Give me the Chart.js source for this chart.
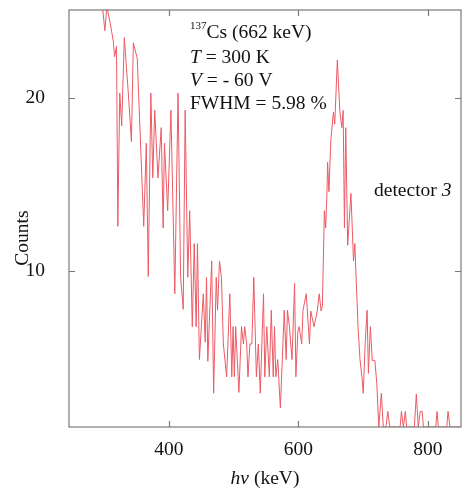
<!DOCTYPE html>
<html>
<head>
<meta charset="utf-8">
<script src="https://cdn.jsdelivr.net/npm/chart.js@4.4.1/dist/chart.umd.min.js"></script>
<style>
html,body{margin:0;padding:0;background:#fff;}
canvas{display:block;}
</style>
</head>
<body>
<canvas id="c" width="462" height="488"></canvas>
<script>
// Photon energy (keV) of each sampled point
const energy = [289,297,301,304,309,314,316,319,321,324,327,331,337,342,345,351,361,365,368,372,375,378,383,388,391,393,398,403,409,414,418,422,425,429,432,436,439,442,444,447,453,456,458,460,466,469,473,475,478,481,484,489,494,497,499,501,503,508,512,515,517,520,522,525,528,531,535,538,541,546,548,551,555,558,561,563,565,568,572,576,578,581,583,586,590,594,596,599,601,605,607,612,617,619,624,629,632,635,637,640,642,644,645,647,650,654,656,660,664,667,669,671,673,676,681,685,687,692,695,698,700,703,706,708,711,714,718,721,724,728,731,735,738,741,757,759,762,765,767,779,782,785,788,791,793,812,814,816,829,831,834,851];
// Counts
const counts = [27.5,25.4,23.9,25.3,24.4,23.3,22.4,23.0,12.6,20.3,18.4,23.5,20.4,17.5,23.2,22.3,12.6,17.4,9.7,20.3,15.4,19.3,15.4,18.3,12.5,17.4,13.5,19.3,8.7,20.3,9.65,7.8,19.3,9.65,13.5,6.8,11.6,6.8,11.6,4.9,8.7,5.9,9.65,4.8,10.6,2.95,9.65,7.75,10.6,9.65,5.8,3.9,8.7,3.9,6.8,3.9,6.8,3.0,6.8,5.8,6.8,5.8,3.9,5.8,5.8,9.65,3.9,5.8,2.95,8.7,3.9,6.8,3.9,7.75,3.9,6.8,3.9,4.9,2.1,5.8,7.75,4.9,7.75,6.8,4.9,9.3,3.9,6.5,6.8,5.8,7.75,8.7,5.8,7.7,6.8,7.7,8.7,7.7,8.0,13.5,12.5,14.5,16.3,14.6,17.6,19.2,18.5,22.2,19.2,18.3,19.3,12.5,18.3,11.5,14.5,10.6,11.6,6.8,4.9,3.9,2.95,5.8,7.75,4.1,6.8,4.85,4.85,3.5,1,2.95,1,1,1.9,1,1,1.9,1,1.9,1,1,2.9,1,1.9,1.9,1,1,1.9,1,1,1.9,1,1];
const xTickValues = [400, 600, 800];
const yTickValues = [10, 20];

const SERIF = "'Liberation Serif', 'Times New Roman', serif";
const FS = 19.5;

function drawRuns(ctx, x, y, runs) {
  let cx = x;
  for (const r of runs) {
    ctx.font = r.font;
    ctx.fillText(r.t, cx, y + (r.dy || 0));
    cx += ctx.measureText(r.t).width;
  }
  return cx;
}

const framePlugin = {
  id: 'frame',
  afterDraw(chart) {
    const ctx = chart.ctx;
    const a = chart.chartArea;
    const xs = chart.scales.x, ys = chart.scales.y;
    ctx.save();
    ctx.strokeStyle = '#7a7a7a';
    ctx.lineWidth = 1.2;
    ctx.strokeRect(a.left, a.top, a.right - a.left, a.bottom - a.top);
    ctx.beginPath();
    const tl = 6;
    for (const v of xTickValues) {
      const px = Math.round(xs.getPixelForValue(v)) + 0.5;
      ctx.moveTo(px, a.bottom); ctx.lineTo(px, a.bottom - tl);
      ctx.moveTo(px, a.top); ctx.lineTo(px, a.top + tl);
    }
    for (const v of yTickValues) {
      const py = Math.round(ys.getPixelForValue(v)) + 0.5;
      ctx.moveTo(a.left, py); ctx.lineTo(a.left + tl, py);
      ctx.moveTo(a.right, py); ctx.lineTo(a.right - tl, py);
    }
    ctx.stroke();

    // texts
    ctx.fillStyle = '#111';
    ctx.textBaseline = 'alphabetic';
    ctx.textAlign = 'left';
    const n = FS + 'px ' + SERIF;
    const it = 'italic ' + FS + 'px ' + SERIF;
    drawRuns(ctx, 190, 38, [{t: '137', font: '11px ' + SERIF, dy: -9}, {t: 'Cs (662 keV)', font: n}]);
    drawRuns(ctx, 190, 63, [{t: 'T', font: it}, {t: ' = 300 K', font: n}]);
    drawRuns(ctx, 190, 86, [{t: 'V', font: it}, {t: ' = - 60 V', font: n}]);
    drawRuns(ctx, 190, 109, [{t: 'FWHM = 5.98 %', font: n}]);
    drawRuns(ctx, 374, 196, [{t: 'detector ', font: n}, {t: '3', font: it}]);

    // x title
    ctx.font = it; const w1 = ctx.measureText('hv').width;
    ctx.font = n; const w2 = ctx.measureText(' (keV)').width;
    const cx = (a.left + a.right) / 2;
    drawRuns(ctx, cx - (w1 + w2) / 2, 484, [{t: 'hv', font: it}, {t: ' (keV)', font: n}]);

    // y title
    ctx.save();
    ctx.translate(28, 238);
    ctx.rotate(-Math.PI / 2);
    ctx.textAlign = 'center';
    ctx.font = n;
    ctx.fillText('Counts', 0, 0);
    ctx.restore();
    ctx.restore();
  }
};

new Chart(document.getElementById('c'), {
  type: 'line',
  data: {
    datasets: [{
      data: energy.map((e, i) => ({x: e, y: counts[i]})),
      borderColor: '#ec5a64',
      borderWidth: 1,
      pointRadius: 0,
      tension: 0,
      fill: false
    }]
  },
  options: {
    responsive: false,
    animation: false,
    devicePixelRatio: 1,
    layout: {padding: {top: 10, right: 1, left: 0, bottom: 0}},
    plugins: {legend: {display: false}, tooltip: {enabled: false}},
    scales: {
      x: {
        type: 'linear',
        min: 245.6, max: 851,
        grid: {display: false},
        border: {display: false},
        afterBuildTicks: s => { s.ticks = xTickValues.map(v => ({value: v})); },
        afterFit: s => { s.height = 61; s.paddingLeft = 0; s.paddingRight = 0; },
        ticks: {color: '#111', padding: 3, maxRotation: 0, font: {family: SERIF, size: FS}}
      },
      y: {
        type: 'linear',
        min: 1, max: 25.1,
        grid: {display: false},
        border: {display: false},
        afterBuildTicks: s => { s.ticks = yTickValues.map(v => ({value: v})); },
        afterFit: s => { s.width = 69; s.paddingTop = 0; s.paddingBottom = 0; },
        ticks: {color: '#111', padding: 16, font: {family: SERIF, size: FS}}
      }
    }
  },
  plugins: [framePlugin]
});
</script>
</body>
</html>
